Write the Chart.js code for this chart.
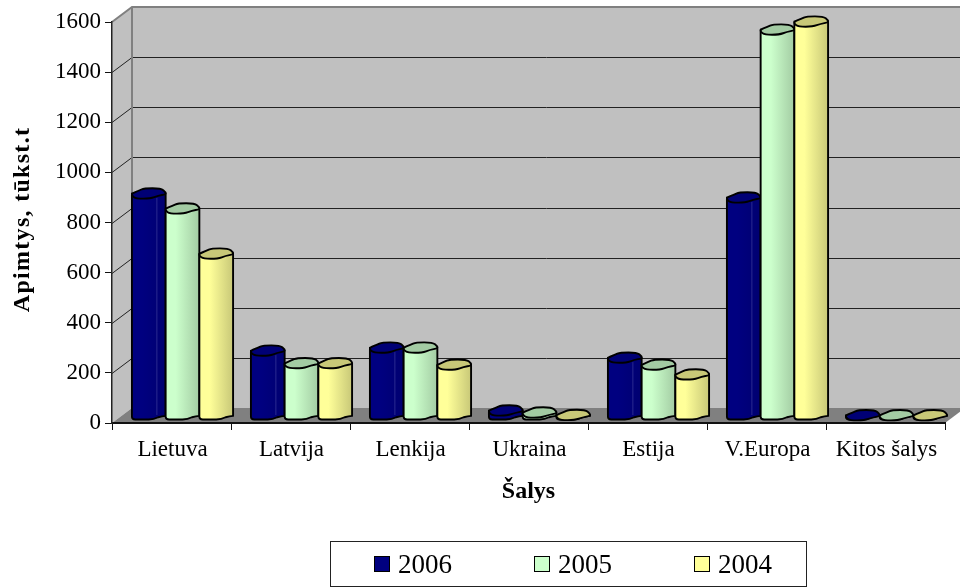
<!DOCTYPE html>
<html>
<head>
<meta charset="utf-8">
<style>
  html, body { margin: 0; padding: 0; background: #fff; }
  #wrap { position: relative; width: 960px; height: 588px; overflow: hidden; }
  #legend { position: absolute; left: 330px; top: 541px; width: 477px; height: 46px; border: 1px solid #222; display: flex; align-items: center; padding-left: 43px; box-sizing: border-box; font: 27px "Liberation Serif", serif; color: #000; }
  #legend .item { flex: none; width: 160px; display: flex; align-items: center; }
  #legend .box { width: 14px; height: 14px; border: 1.5px solid #000; margin-right: 8px; }
</style>
</head>
<body>
<div id="wrap">
  <canvas id="chart" width="960" height="588"></canvas>
  <div id="legend"></div>
</div>
<script src="https://cdn.jsdelivr.net/npm/chart.js@4"></script>
<script>
const categories = ['Lietuva', 'Latvija', 'Lenkija', 'Ukraina', 'Estija', 'V.Europa', 'Kitos šalys'];
const years = ['2006', '2005', '2004'];
const values2006 = [886, 259, 271, 20, 231, 870, 1];
const values2005 = [826, 209, 271, 12, 203, 1540, 1];
const values2004 = [646, 209, 203, 2, 164, 1572, 1];

// colours of each series: front, shaded side, top
const fills = ['#000080', '#ccffcc', '#ffff99'];
const shades = ['#000070', '#a3cca3', '#c8c878'];
const caps = ['#000075', '#a3cba3', '#c8c878'];

// 3D offsets: back wall and the middle of the depth where the bars stand
const wallDx = 20, wallDy = -15;
const barDx = 11, barDy = -7.5;

// outline of the bars' ends (t across the bar, d in cap heights)
const capTop = [[0, 0], [0.2, -0.6], [0.36, -1.15], [0.86, -1.15], [1, -0.3]];
const capBottom = [[1, 0.2], [0.78, 0.5], [0.55, 1.15], [0.12, 1.15], [0, 0.5]];
const capHeight = 4.5;

// walls, floor and gridlines, taken from the scales
const wallsPlugin = {
  id: 'walls',
  beforeDraw(chart) {
    const { ctx, chartArea: a, scales: { y } } = chart;
    const y0 = y.getPixelForValue(0), yTop = y.getPixelForValue(1600);
    ctx.save();
    ctx.fillStyle = '#c0c0c0';
    ctx.fillRect(a.left + wallDx, yTop + wallDy, a.right - a.left, y0 - yTop);
    ctx.beginPath();
    ctx.moveTo(a.left, y0);
    ctx.lineTo(a.left, yTop);
    ctx.lineTo(a.left + wallDx, yTop + wallDy);
    ctx.lineTo(a.left + wallDx, y0 + wallDy);
    ctx.closePath();
    ctx.fill();
    // floor
    ctx.fillStyle = '#808080';
    ctx.beginPath();
    ctx.moveTo(a.left, y0);
    ctx.lineTo(a.right, y0);
    ctx.lineTo(a.right + wallDx, y0 + wallDy);
    ctx.lineTo(a.left + wallDx, y0 + wallDy);
    ctx.closePath();
    ctx.fill();
    // gridlines
    ctx.strokeStyle = '#222';
    ctx.lineWidth = 1;
    y.ticks.forEach(t => {
      if (t.value === 0 || t.value === 1600) return;
      const py = Math.round(y.getPixelForValue(t.value)) + 0.5;
      ctx.beginPath();
      ctx.moveTo(a.left, py);
      ctx.lineTo(a.left + wallDx, py + wallDy);
      ctx.lineTo(a.right + wallDx, py + wallDy);
      ctx.stroke();
    });
    // grey wall edges
    ctx.strokeStyle = '#808080';
    ctx.lineWidth = 2;
    ctx.beginPath();
    ctx.moveTo(a.left, yTop);
    ctx.lineTo(a.left + wallDx, yTop + wallDy);
    ctx.lineTo(a.right + wallDx, yTop + wallDy);
    ctx.moveTo(a.left + wallDx, yTop + wallDy);
    ctx.lineTo(a.left + wallDx, y0 + wallDy);
    ctx.stroke();
    ctx.restore();
  }
};

// closed blob through the midpoints of the given corners
function blob(ctx, pts) {
  const n = pts.length;
  ctx.beginPath();
  ctx.moveTo((pts[n - 1][0] + pts[0][0]) / 2, (pts[n - 1][1] + pts[0][1]) / 2);
  pts.forEach((p, k) => {
    const q = pts[(k + 1) % n];
    ctx.quadraticCurveTo(p[0], p[1], (p[0] + q[0]) / 2, (p[1] + q[1]) / 2);
  });
  ctx.closePath();
}

function drawCylinder(ctx, bar, i) {
  const { x, y, base, width } = bar.getProps(['x', 'y', 'base', 'width']);
  const l = x - width / 2, r = x + width / 2;
  const px = t => l + t * width;
  const g = ctx.createLinearGradient(l, 0, r, 0);
  g.addColorStop(0, fills[i]);
  g.addColorStop(0.3, fills[i]);
  g.addColorStop(1, shades[i]);
  ctx.lineWidth = 1.9;
  ctx.lineJoin = 'round';
  ctx.strokeStyle = '#000';
  ctx.fillStyle = g;
  // body
  ctx.beginPath();
  ctx.moveTo(l, y);
  ctx.lineTo(r, y);
  ctx.lineTo(r, base + capBottom[0][1] * capHeight);
  ctx.quadraticCurveTo(px(0.9), base + 0.25 * capHeight, px(0.78), base + 0.5 * capHeight);
  ctx.quadraticCurveTo(px(0.65), base + capHeight, px(0.5), base + capHeight);
  ctx.lineTo(px(0.1), base + capHeight);
  ctx.quadraticCurveTo(l, base + capHeight, l, base + 0.4 * capHeight);
  ctx.closePath();
  ctx.fill();
  ctx.stroke();
  if (i === 0 && y + capHeight < base) {
    // light seam on the dark bars
    ctx.strokeStyle = '#2a2a90';
    ctx.lineWidth = 1;
    ctx.beginPath();
    ctx.moveTo(px(0.74), y + capHeight);
    ctx.lineTo(px(0.74), base);
    ctx.stroke();
    ctx.strokeStyle = '#000';
    ctx.lineWidth = 1.9;
  }
  // top
  ctx.fillStyle = caps[i];
  blob(ctx, capTop.concat(capBottom).map(([t, d]) => [px(t), y + d * capHeight]));
  ctx.fill();
  ctx.stroke();
}

// bars are painted left to right so that each one overlaps the one before
const cylinderPlugin = {
  id: 'cylinders',
  beforeDatasetsDraw(chart) {
    const ctx = chart.ctx;
    ctx.save();
    ctx.translate(barDx, barDy);
    chart.data.datasets.forEach((ds, i) => {
      chart.getDatasetMeta(i).data.forEach(bar => drawCylinder(ctx, bar, i));
    });
    ctx.restore();
    return false;
  }
};

new Chart(document.getElementById('chart'), {
  type: 'bar',
  data: {
    labels: categories,
    datasets: [
      { label: years[0], data: values2006, backgroundColor: fills[0] },
      { label: years[1], data: values2005, backgroundColor: fills[1] },
      { label: years[2], data: values2004, backgroundColor: fills[2] }
    ]
  },
  plugins: [wallsPlugin, cylinderPlugin],
  options: {
    responsive: false,
    animation: false,
    layout: { padding: { top: 22, right: 15, bottom: 0, left: 0 } },
    categoryPercentage: 0.85,
    barPercentage: 1,
    plugins: { legend: { display: false }, tooltip: { enabled: false } },
    scales: {
      x: {
        afterFit(scale) { scale.height = 165; },
        border: { color: '#111', width: 2 },
        grid: { drawOnChartArea: false, tickLength: 7, color: '#111' },
        ticks: { color: '#000', font: { family: 'Liberation Serif', size: 23 }, padding: 6, labelOffset: 1, autoSkip: false, maxRotation: 0 },
        title: { display: true, text: 'Šalys', color: '#000', font: { family: 'Liberation Serif', size: 24, weight: 'bold' }, padding: { top: 0, bottom: 82 } }
      },
      y: {
        min: 0,
        max: 1600,
        afterFit(scale) {
          scale.width = 112;
          // the title is set wider than the font, canvas has a letterSpacing for that
          if (!scale.spacedTitle) {
            scale.spacedTitle = true;
            const drawTitle = scale.drawTitle;
            scale.drawTitle = function () {
              this.ctx.save();
              this.ctx.translate(0, -3);
              this.ctx.letterSpacing = '1.3px';
              drawTitle.call(this);
              this.ctx.restore();
            };
          }
        },
        border: { color: '#222', width: 1.5 },
        grid: { drawOnChartArea: false, tickLength: 7, color: '#111' },
        ticks: { stepSize: 200, color: '#000', font: { family: 'Liberation Serif', size: 23 }, padding: 4, callback: v => String(v) },
        title: { display: true, text: 'Apimtys, tūkst.t', color: '#000', font: { family: 'Liberation Serif', size: 24, weight: 'bold' }, padding: { top: 8, bottom: 0 } }
      }
    }
  }
});

// legend box under the chart
const legend = document.getElementById('legend');
years.forEach((year, i) => {
  const item = document.createElement('div');
  item.className = 'item';
  const box = document.createElement('span');
  box.className = 'box';
  box.style.background = fills[i];
  item.appendChild(box);
  item.appendChild(document.createTextNode(year));
  legend.appendChild(item);
});
</script>
</body>
</html>
